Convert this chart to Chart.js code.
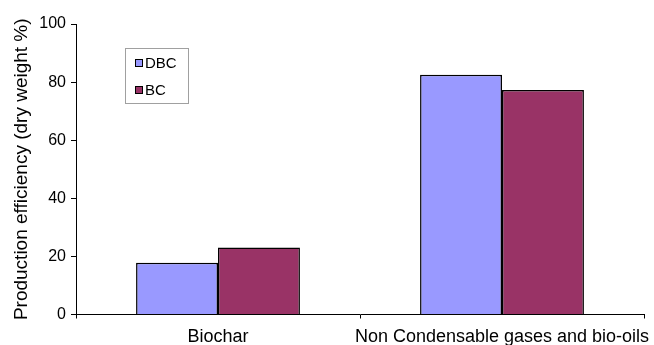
<!DOCTYPE html>
<html>
<head>
<meta charset="utf-8">
<script src="https://cdn.jsdelivr.net/npm/chart.js@4/dist/chart.umd.min.js"></script>
<style>
  html, body { margin: 0; padding: 0; background: #fff; }
  #wrap { width: 654px; height: 345px; }
</style>
</head>
<body>
<div id="wrap"><canvas id="c" width="654" height="345"></canvas></div>
<script>
// Production efficiency (dry weight %) by product fraction
const categories = ['Biochar', 'Non Condensable gases and bio-oils'];
const seriesNames = ['DBC', 'BC'];
const dbcValues = [17.8, 82.5];
const bcValues = [23.1, 77.3];
const yTicks = [0, 20, 40, 60, 80, 100];

const FONT = 'Liberation Sans, Arial, sans-serif';

// Boxed legend drawn inside the plot area, near the upper left
const boxLegend = {
  id: 'boxLegend',
  afterDraw(chart) {
    const ctx = chart.ctx;
    const x0 = 125.5, y0 = 48.5, w = 63, h = 55;
    ctx.save();
    ctx.fillStyle = '#fff';
    ctx.fillRect(x0, y0, w, h);
    ctx.strokeStyle = '#a0a0a0';
    ctx.lineWidth = 1;
    ctx.strokeRect(x0, y0, w, h);
    ctx.font = '15px ' + FONT;
    ctx.textBaseline = 'middle';
    chart.data.datasets.forEach((ds, i) => {
      const cy = 63 + i * 27;
      ctx.fillStyle = ds.backgroundColor;
      ctx.fillRect(135.5, cy - 3.5, 7, 7);
      ctx.strokeStyle = '#000';
      ctx.lineWidth = 1;
      ctx.strokeRect(135.5, cy - 3.5, 7, 7);
      ctx.fillStyle = '#000';
      ctx.fillText(ds.label, 145, cy + 0.5);
    });
    ctx.restore();
  }
};

new Chart(document.getElementById('c'), {
  type: 'bar',
  data: {
    labels: categories,
    datasets: [
      { label: seriesNames[0], data: dbcValues, backgroundColor: '#9999ff', borderColor: '#000', borderWidth: 1.5 },
      { label: seriesNames[1], data: bcValues, backgroundColor: '#993366', borderColor: '#000', borderWidth: 1.5 }
    ]
  },
  options: {
    responsive: false,
    animation: false,
    devicePixelRatio: 1,
    layout: { padding: { top: 24, right: 10, left: 0, bottom: 0 } },
    datasets: { bar: { barPercentage: 1, categoryPercentage: 0.577 } },
    plugins: { legend: { display: false }, tooltip: { enabled: false } },
    scales: {
      x: {
        grid: { display: true, drawOnChartArea: false, drawTicks: true, tickLength: 4, color: '#000', offset: true },
        border: { display: true, color: '#000', width: 1 },
        ticks: { color: '#000', font: { family: FONT, size: 18 }, padding: 8, maxRotation: 0, autoSkip: false },
        afterFit(s) { s.height = 30.5; s.paddingLeft = 0; s.paddingRight = 0; }
      },
      y: {
        min: 0, max: 100,
        afterBuildTicks(s) { s.ticks = yTicks.map(v => ({ value: v })); },
        grid: { display: true, drawOnChartArea: false, drawTicks: true, tickLength: 5, color: '#000' },
        border: { display: true, color: '#000', width: 1 },
        ticks: { color: '#000', font: { family: FONT, size: 16 }, padding: 5 },
        title: {
          display: true,
          text: 'Production efficiency (dry weight %)',
          color: '#000',
          font: { family: FONT, size: 19 },
          padding: { top: 10, bottom: 0 }
        },
        afterFit(s) { s.width = 76; }
      }
    }
  },
  plugins: [boxLegend]
});
</script>
</body>
</html>
